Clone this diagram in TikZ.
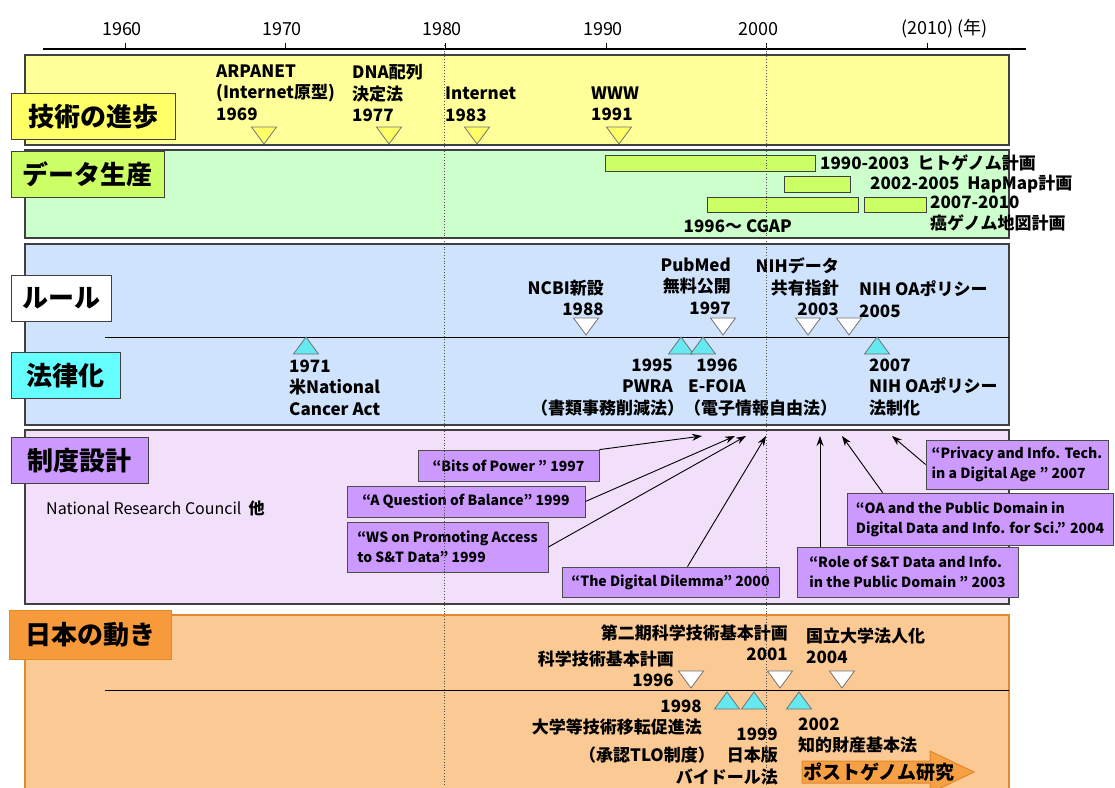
\documentclass[tikz,border=0pt]{standalone}
\usepackage{fontspec}
\setmainfont{Noto Sans CJK JP}
\usetikzlibrary{arrows.meta}

\definecolor{techC}{HTML}{FFFF99}
\definecolor{techTag}{HTML}{FFFF66}
\definecolor{dataC}{HTML}{CCFFCC}
\definecolor{barC}{HTML}{CCFF66}
\definecolor{ruleC}{HTML}{CFE3FC}
\definecolor{lawTag}{HTML}{66FFFF}
\definecolor{triY}{HTML}{FFFF66}
\definecolor{triC}{HTML}{66E8F0}
\definecolor{designC}{HTML}{F2DFFA}
\definecolor{repC}{HTML}{CC99FF}
\definecolor{japanC}{HTML}{FBC993}
\definecolor{japanLine}{HTML}{E08A2C}
\definecolor{japanTag}{HTML}{F79A3C}
\definecolor{postC}{HTML}{F5A045}

\begin{document}
\begin{tikzpicture}[
    x=1pt, y=-1pt,
    band/.style={draw=black!75, line width=1.2pt},
    tag/.style={draw=black!75, line width=1pt, inner sep=0, minimum height=46, font=\fontsize{26}{28}\selectfont\bfseries},
    txt/.style={inner sep=0, font=\fontsize{17}{21.5}\selectfont\bfseries},
    yr/.style={inner sep=0, font=\fontsize{18}{20}\selectfont},
    bar/.style={draw=black!75, line width=0.8pt, fill=barC},
    rep/.style={draw=black!70, line width=0.8pt, fill=repC, inner sep=0, font=\fontsize{14}{20}\selectfont\bfseries},
    arr/.style={-{Stealth[length=10pt, width=7pt]}, line width=0.9pt},
    dtri/.pic={\filldraw[fill=#1, draw=black!55, line width=0.8pt] (-12.5,0) -- (12.5,0) -- (0,17) -- cycle;},
    utri/.pic={\filldraw[fill=#1, draw=black!55, line width=0.8pt] (-12.5,17) -- (12.5,17) -- (0,0) -- cycle;},
]
\useasboundingbox (0,0) rectangle (1115,787);

% Year axis
\draw[line width=1.8pt] (43,49) -- (1026,49);
\foreach \xx/\yy in {125/1960, 285/1970, 445/1980, 606/1990} {
    \draw[line width=1pt] (\xx,49) -- (\xx,43);
    \node[yr] (y\yy) at (\xx-3,29) {\yy};
}
\draw[line width=1pt] (766,49) -- (766,43);
\node[yr] (y2000) at (758,29) {2000};
\draw[line width=1pt] (927,49) -- (927,43);
\node[yr, anchor=west] (y2010) at (901,29) {(2010) (年)};

% Bands
\draw[band, fill=techC] (25,55) rectangle (1009,145);
\draw[band, fill=dataC] (25,150) rectangle (1009,238);
\draw[band, fill=ruleC] (25,244) rectangle (1009,425);
\draw[band, fill=designC] (25,430) rectangle (1009,604);
\draw[band, draw=japanLine, fill=japanC] (25,615) rectangle (1009,800);

\draw[line width=1pt] (105,337) -- (1009,337);
\draw[line width=1pt] (105,690) -- (1009,690);

% Band tags
\node[tag, fill=techTag, minimum width=164] (tech) at (93,116.5) {技術の進歩};
\node[tag, fill=barC, minimum width=153] (data) at (87.5,174) {データ生産};
\node[tag, fill=white, minimum width=100] (rule) at (61,298.5) {ルール};
\node[tag, fill=lawTag, minimum width=109] (law) at (65.5,375.5) {法律化};
\node[tag, fill=repC, minimum width=137] (design) at (79.5,460.5) {制度設計};
\node[tag, draw=japanLine, fill=japanTag, minimum width=162, minimum height=49] (japan) at (90,634.5) {日本の動き};

% Technology
\node[txt, anchor=north west, align=left] (arpa) at (216,64.5) {ARPANET\\(Internet原型)\\1969};
\node[txt, anchor=north west, align=left] (dna) at (352,64.5) {DNA配列\\決定法\\1977};
\node[txt, anchor=north west, align=left] (inet) at (445,87) {Internet\\1983};
\node[txt, anchor=north west, align=left] (www) at (591,86.5) {WWW\\1991};
\foreach \xx in {264, 389, 477, 619} {
    \pic at (\xx,127) {dtri=triY};
}

% Data production
\draw[bar] (605,155) rectangle (815,171);
\draw[bar] (784,176) rectangle (850,192);
\draw[bar] (707,197) rectangle (858,212);
\draw[bar] (864,197) rectangle (926,212);
\node[txt, anchor=west] (hgp) at (820,163) {1990-2003\ \ ヒトゲノム計画};
\node[txt, anchor=west] (hapmap) at (870,184) {2002-2005\ \ HapMap計画};
\node[txt, anchor=north west, align=left] (tcga) at (930,195.5) {2007-2010\\癌ゲノム地図計画};
\node[txt, anchor=east] (cgap) at (792,226) {1996〜 CGAP};

% Rules
\node[txt, anchor=north east, align=right] (ncbi) at (604,279.5) {NCBI新設\\1988};
\node[txt, anchor=north east, align=right] (pubmed) at (731,257.5) {PubMed\\無料公開\\1997};
\node[txt, anchor=north east, align=right] (nihdata) at (839,257.5) {NIHデータ\\共有指針\\2003};
\node[txt, anchor=north west, align=left] (nihoa) at (859,280.5) {NIH OAポリシー\\2005};
\foreach \xx in {586, 723, 808, 849} {
    \pic at (\xx,318) {dtri=white};
}

% Laws
\foreach \xx in {306, 681, 703, 877} {
    \pic at (\xx,337) {utri=triC};
}
\node[txt, anchor=north west, align=left] (nca) at (289,359.5) {1971\\米National\\Cancer Act};
\node[txt, anchor=north east, align=right] (pwra) at (673,358.5) {1995\\PWRA};
\node[txt, anchor=north, align=center] (efoia) at (717,358.5) {1996\\E-FOIA};
\node[txt, anchor=west] (lawnames) at (531,408) {（書類事務削減法）（電子情報自由法）};
\node[txt, anchor=north west, align=left] (oalaw) at (869,358.5) {2007\\NIH OAポリシー\\法制化};

% Institutional design
\node[inner sep=0, anchor=west, font=\fontsize{16}{18}\selectfont] (nrc) at (46,508) {National Research Council\ \ \textbf{他}};
\node[rep, minimum width=181, minimum height=31] (bits) at (508.5,465.5) {“Bits of Power ” 1997};
\node[rep, minimum width=238, minimum height=31] (balance) at (466,501.5) {“A Question of Balance” 1999};
\node[rep, minimum width=201, minimum height=50, align=left] (ws) at (447.5,547) {“WS on Promoting Access\\ to S\&T Data” 1999};
\node[rep, minimum width=217, minimum height=30] (dilemma) at (670.5,582) {“The Digital Dilemma” 2000};
\node[rep, minimum width=221, minimum height=50, align=left] (role) at (907.5,572) {“Role of S\&T Data and Info.\\ in the Public Domain ” 2003};
\node[rep, minimum width=266, minimum height=52, align=left] (oapd) at (980,519) {“OA and the Public Domain in\\Digital Data and Info. for Sci.” 2004};
\node[rep, minimum width=182, minimum height=49, align=left] (privacy) at (1017,464.5) {“Privacy and Info. Tech.\\in a Digital Age ” 2007};

\coordinate (t1) at (702,436);
\coordinate (t2) at (735,436);
\coordinate (t3) at (746,436);
\coordinate (t4) at (766,436);
\coordinate (t5) at (820,436);
\coordinate (t6) at (842,436);
\coordinate (t7) at (892,436);
\draw[arr] (bits.north east) -- (t1);
\draw[arr] (balance.east) -- (t2);
\draw[arr] (ws.east) -- (t3);
\draw[arr] ([xshift=17pt]dilemma.north) -- (t4);
\draw[arr] (role.north -| t5) -- (t5);
\draw[arr] ([xshift=36pt]oapd.north west) -- (t6);
\draw[arr] (privacy.west) -- (t7);

% Japan
\node[txt, anchor=north east, align=right] (niki) at (788,624.5) {第二期科学技術基本計画\\2001};
\node[txt, anchor=north west, align=left] (houjin) at (806,627.5) {国立大学法人化\\2004};
\node[txt, anchor=north east, align=right] (kihon) at (674,650.5) {科学技術基本計画\\1996};
\foreach \xx in {691, 780, 842} {
    \pic at (\xx,671) {dtri=white};
}
\foreach \xx in {727, 754, 799} {
    \pic at (\xx,692) {utri=triC};
}
\node[txt, anchor=north east, align=right] (tlo) at (702,699.5) {1998\\大学等技術移転促進法};
\node[txt, anchor=east] (tlo2) at (715,755) {（承認TLO制度）};
\node[txt, anchor=north east, align=right] (bayh) at (778,727.5) {1999\\日本版\\バイドール法};
\node[txt, anchor=north west, align=left] (chizai) at (798,717.5) {2002\\知的財産基本法};
\draw[fill=postC, draw=japanLine, line width=1pt] (802,761) -- (930,761) -- (930,751) -- (974,772) -- (930,793) -- (930,783) -- (802,783) -- cycle;
\node[inner sep=0, font=\fontsize{19}{20}\selectfont\bfseries] (post) at (879,772) {ポストゲノム研究};

% Guide lines
\draw[dotted, black!70, line width=0.8pt] (444,45) -- (444,787);
\draw[dotted, black!70, line width=0.8pt] (766,45) -- (766,787);

\end{tikzpicture}
\end{document}
